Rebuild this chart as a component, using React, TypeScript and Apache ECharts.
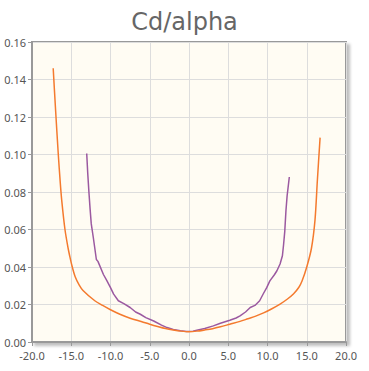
import React, { useEffect, useRef } from "react";
import * as echarts from "echarts";

const titleText = "Cd/alpha";

const orangeAlpha = [-17.3, -17.0, -16.65, -16.4, -16.2, -15.8, -15.4, -15.15, -14.9, -14.5, -14.0, -13.5, -12.0, -11.0, -10.0, -8.8, -7.5, -6.0, -5.0, -4.0, -3.0, -2.0, -1.0, 0, 1.0, 2.0, 3.0, 4.0, 5.2, 6.5, 7.5, 8.5, 9.5, 10.5, 11.6, 12.5, 13.3, 14.0, 14.4, 15.0, 15.6, 16.05, 16.35, 16.7];
const orangeCd = [0.146, 0.124, 0.1, 0.085, 0.075, 0.06, 0.05, 0.045, 0.0405, 0.0348, 0.0305, 0.0275, 0.022, 0.0195, 0.0172, 0.0148, 0.0127, 0.0108, 0.0095, 0.0083, 0.0072, 0.0064, 0.0058, 0.0055, 0.0058, 0.0064, 0.0071, 0.0081, 0.0095, 0.011, 0.0124, 0.0138, 0.0155, 0.0176, 0.0202, 0.0228, 0.0256, 0.0292, 0.0325, 0.04, 0.05, 0.065, 0.086, 0.109];

const purpleAlpha = [-13.03, -12.9, -12.75, -12.6, -12.45, -12.2, -11.8, -11.6, -11.4, -10.9, -10.5, -10.0, -9.6, -9.0, -8.3, -7.5, -6.8, -6.2, -5.5, -4.5, -3.5, -2.8, -2.0, -1.1, -0.3, 0.5, 1.0, 2.0, 3.1, 4.0, 5.2, 6.0, 6.5, 7.2, 7.8, 8.4, 9.0, 9.5, 9.9, 10.3, 10.9, 11.2, 11.6, 11.9, 12.05, 12.2, 12.35, 12.5, 12.78];
const purpleCd = [0.1005, 0.09, 0.08, 0.071, 0.063, 0.056, 0.044, 0.043, 0.041, 0.036, 0.033, 0.029, 0.0255, 0.022, 0.0205, 0.0184, 0.016, 0.0148, 0.013, 0.0112, 0.009, 0.0077, 0.0067, 0.006, 0.0056, 0.0058, 0.0063, 0.0072, 0.0086, 0.01, 0.0116, 0.0128, 0.0139, 0.016, 0.0184, 0.0195, 0.022, 0.026, 0.029, 0.0326, 0.036, 0.038, 0.0416, 0.046, 0.052, 0.059, 0.07, 0.078, 0.088];

const zip = (a: number[], b: number[]) => a.map((v, i) => [v, b[i]]);

export default function App() {
  const ref = useRef<HTMLDivElement>(null);
  useEffect(() => {
    if (!ref.current) return;
    const chart = echarts.init(ref.current, undefined, { renderer: "svg" });
    const axisCommon = {
      axisLine: { show: true, onZero: false, lineStyle: { color: "#999", width: 2 } },
      axisTick: { show: true, length: 4, lineStyle: { color: "#999", width: 1 } },
      splitLine: { show: true, lineStyle: { color: "#ddd", width: 1 } },
      axisLabel: { color: "#555", fontSize: 11, fontFamily: "Noto Sans" },
    };
    chart.setOption({
      animation: false,
      title: {
        text: titleText,
        left: "center",
        top: 5,
        textStyle: { fontFamily: "DejaVu Sans", fontSize: 24, fontWeight: "normal", color: "#666" },
      },
      grid: {
        left: 32,
        right: 23,
        top: 42,
        bottom: 29,
        show: true,
        backgroundColor: "#fffcf3",
        borderColor: "#999",
        borderWidth: 2,
        shadowColor: "rgba(0,0,0,0.25)",
        shadowBlur: 3,
        shadowOffsetX: 3,
        shadowOffsetY: 3,
      },
      xAxis: {
        type: "value",
        min: -20,
        max: 20,
        interval: 5,
        ...axisCommon,
        axisLabel: { ...axisCommon.axisLabel, formatter: (v: number) => v.toFixed(1), margin: 8 },
      },
      yAxis: {
        type: "value",
        min: 0,
        max: 0.16,
        interval: 0.02,
        ...axisCommon,
        axisLabel: { ...axisCommon.axisLabel, formatter: (v: number) => v.toFixed(2), margin: 6 },
      },
      series: [
        {
          type: "line",
          data: zip(purpleAlpha, purpleCd),
          showSymbol: false,
          lineStyle: { color: "#9b59a0", width: 1.5 },
          itemStyle: { color: "#9b59a0" },
        },
        {
          type: "line",
          data: zip(orangeAlpha, orangeCd),
          showSymbol: false,
          smooth: 0.3,
          lineStyle: { color: "#f47a2e", width: 1.5 },
          itemStyle: { color: "#f47a2e" },
        },
      ],
    });
    return () => chart.dispose();
  }, []);
  return <div ref={ref} style={{ width: 369, height: 371, position: "absolute", left: 0, top: 0 }} />;
}
